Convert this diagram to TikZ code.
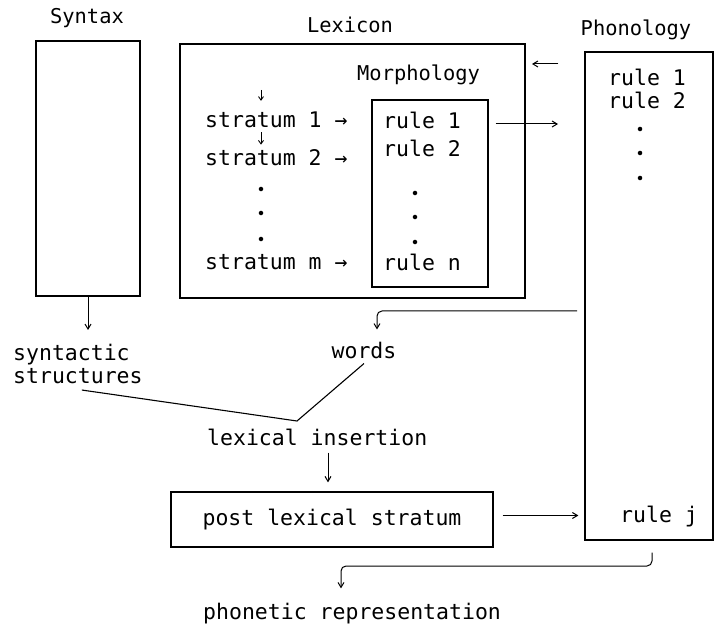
\documentclass[tikz,border=0pt]{standalone}
\usepackage{fontspec}
\usepackage{tikz}
\usetikzlibrary{arrows.meta}
\newfontfamily\typew{DejaVu Sans Mono}

\begin{document}
\begin{tikzpicture}[x=1pt, y=-1pt,
    every node/.style = {font=\typew\fontsize{21.5}{23}\selectfont, inner sep=0pt},
    box/.style = {draw, line width=1.3pt},
    tag/.style = {font=\typew\fontsize{20.4}{22}\selectfont},
    arr/.style = {-{Straight Barb[length=5pt, width=6pt]}, line width=1pt},
    tick/.style = {-{Straight Barb[length=3.5pt, width=5pt]}, line width=0.9pt},
    pt/.style = {circle, fill, inner sep=1.6pt}]
        \useasboundingbox (0,0) rectangle (718,628);
        \node[box, minimum width=104, minimum height=255] (syn) at (88,168.5) {};
        \node[box, minimum width=345, minimum height=254] (lex) at (352.5,171) {};
        \node[box, minimum width=116, minimum height=187] (morph) at (430,193.5) {};
        \node[box, minimum width=128, minimum height=488] (phon) at (649,296) {};
        \node[box, minimum width=322, minimum height=55] (post) at (332,519.5) {post lexical stratum};
        \node[tag] (syntag) at (87,18) {Syntax};
        \node[tag] (lextag) at (350,25) {Lexicon};
        \node[tag] (phontag) at (636,30) {Phonology};
        \node[tag, anchor=west] (morphtag) at (357,75) {Morphology};
        \node[anchor=west] (st1) at (205,120) {stratum 1 →};
        \node[anchor=west] (st2) at (205,158) {stratum 2 →};
        \node[anchor=west] (stm) at (205,262) {stratum m →};
        \foreach \y [count=\i] in {189,213,239}
            \node[pt] (sd\i) at (261,\y) {};
        \node[anchor=west] (mr1) at (383,120) {rule 1};
        \node[anchor=west] (mr2) at (383,148) {rule 2};
        \node[anchor=west] (mrn) at (383,262) {rule n};
        \foreach \y [count=\i] in {193,217,242}
            \node[pt] (md\i) at (415,\y) {};
        \node[anchor=west] (pr1) at (608,77) {rule 1};
        \node[anchor=west] (pr2) at (608,100) {rule 2};
        \foreach \y [count=\i] in {129,153,178}
            \node[pt] (pd\i) at (640,\y) {};
        \node[anchor=west] (prj) at (620,517) {rule j};
        \node[anchor=north west, align=left] (synt) at (13,344) {syntactic\\structures};
        \node (words) at (364,350) {words};
        \node[anchor=west] (lexins) at (207,437) {lexical insertion};
        \node[anchor=west] (phonet) at (203,614) {phonetic representation};
        \coordinate (entry) at (261,90);
        \coordinate (pin) at (532,64);
        \coordinate (mout) at (558,124);
        \coordinate (lout) at (577,311);
        \coordinate (join) at (297,421);
        \coordinate (hook) at (341,566);
        \draw[tick, shorten >=11pt] (entry) -- (st1.north -| entry);
        \draw[tick, shorten <=4pt, shorten >=5pt] (st1.south -| entry) -- (st2.north -| entry);
        \draw[arr, shorten <=26pt] (pin -| phon.west) -- (pin);
        \draw[arr, shorten <=7pt] (morph.east |- mout) -- (mout);
        \draw[arr, rounded corners=5pt, shorten >=12pt] (lout) -| ([xshift=13pt]words.north);
        \draw[arr, shorten >=14pt] (syn.south) -- (syn.south |- synt.north);
        \draw[line width=1.1pt] ([yshift=-6pt, xshift=4pt]synt.south) -- (join) -- ([yshift=-5pt]words.south);
        \draw[arr, shorten <=7pt, shorten >=9pt] (lexins.south -| 328,0) -- (post.north -| 328,0);
        \draw[arr, shorten <=9pt, shorten >=6pt] ([yshift=4pt]post.east) -- ([yshift=4pt]post.east -| phon.west);
        \draw[arr, rounded corners=5pt, shorten >=15pt] ([xshift=3pt, yshift=-12pt]phon.south) |- (hook) -- (hook |- phonet.north);
\end{tikzpicture}
\end{document}
